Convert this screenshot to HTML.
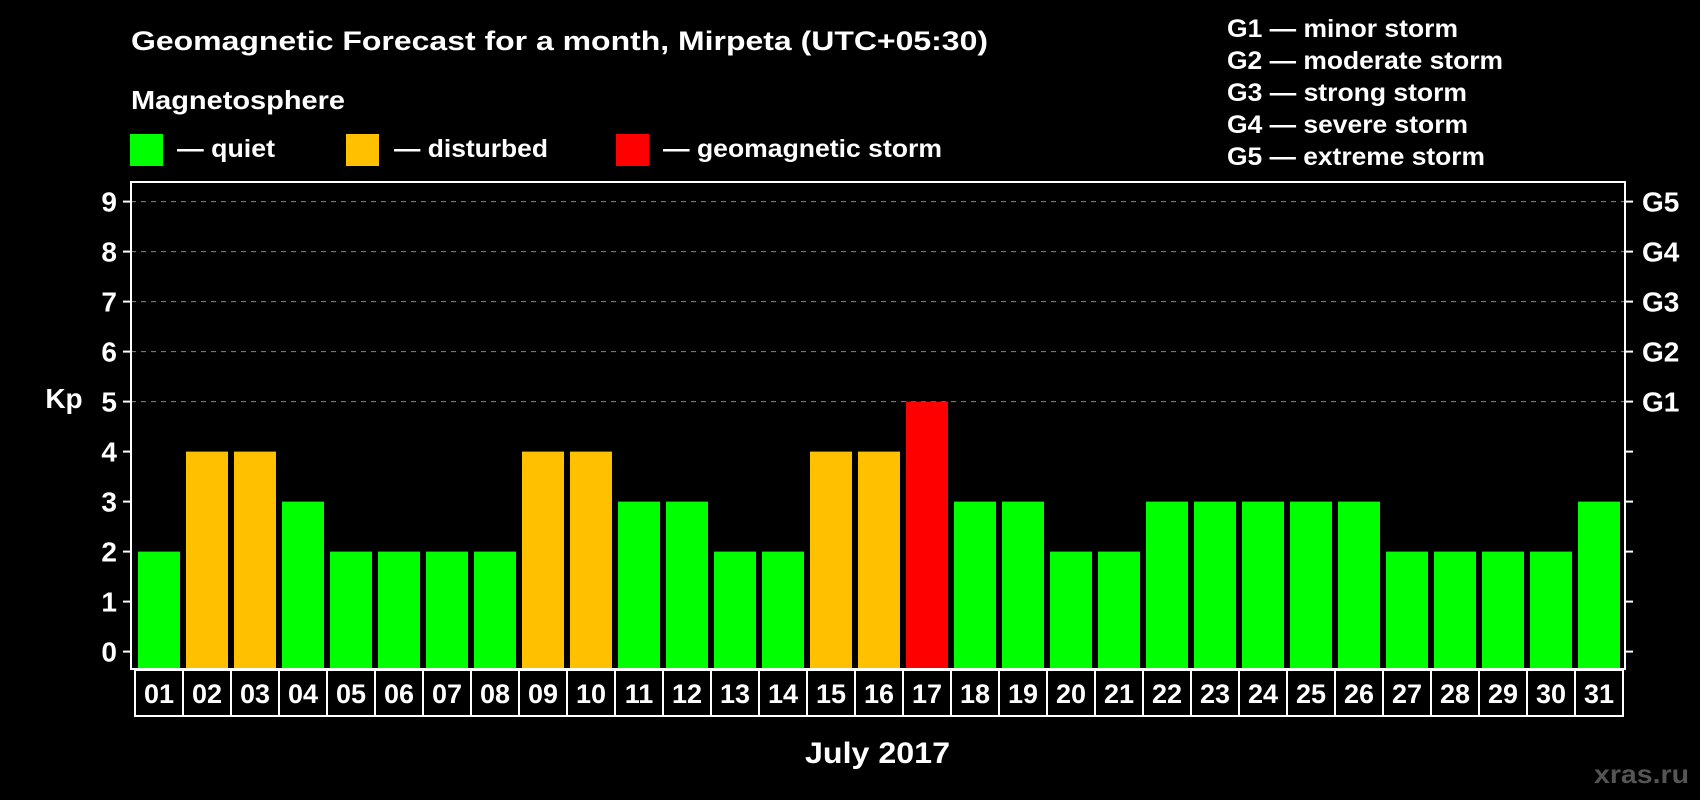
<!DOCTYPE html>
<html><head><meta charset="utf-8"><style>
body{margin:0;background:#000;}
svg{display:block;font-family:"Liberation Sans",Arial,sans-serif;font-weight:bold;}
</style></head><body>
<svg id="chart" width="1700" height="800" viewBox="0 0 1700 800">
<rect width="1700" height="800" fill="#000"/>
<text x="131" y="50" fill="#fff" font-size="27" textLength="857" lengthAdjust="spacingAndGlyphs">Geomagnetic Forecast for a month, Mirpeta (UTC+05:30)</text>
<text x="131" y="109" fill="#fff" font-size="26" textLength="214" lengthAdjust="spacingAndGlyphs">Magnetosphere</text>
<g><rect x="130" y="134" width="33" height="32" fill="#00ff00"/><text x="177" y="157" fill="#fff" font-size="25" textLength="98" lengthAdjust="spacingAndGlyphs">— quiet</text></g>
<g><rect x="346" y="134" width="33" height="32" fill="#ffc000"/><text x="394" y="157" fill="#fff" font-size="25" textLength="154" lengthAdjust="spacingAndGlyphs">— disturbed</text></g>
<g><rect x="616" y="134" width="33" height="32" fill="#ff0000"/><text x="663" y="157" fill="#fff" font-size="25" textLength="279" lengthAdjust="spacingAndGlyphs">— geomagnetic storm</text></g>
<g font-size="25" fill="#fff">
<text x="1227" y="37" textLength="231" lengthAdjust="spacingAndGlyphs">G1 — minor storm</text>
<text x="1227" y="69" textLength="276" lengthAdjust="spacingAndGlyphs">G2 — moderate storm</text>
<text x="1227" y="101" textLength="240" lengthAdjust="spacingAndGlyphs">G3 — strong storm</text>
<text x="1227" y="133" textLength="241" lengthAdjust="spacingAndGlyphs">G4 — severe storm</text>
<text x="1227" y="165" textLength="258" lengthAdjust="spacingAndGlyphs">G5 — extreme storm</text>
</g>
<text x="64" y="408" fill="#fff" font-size="28" text-anchor="middle">Kp</text>
<text x="805" y="763" fill="#fff" font-size="30" textLength="145" lengthAdjust="spacingAndGlyphs">July 2017</text>
<text x="1594" y="783" fill="#555" font-size="26" textLength="95" lengthAdjust="spacingAndGlyphs">xras.ru</text>
<g id="grid"></g><g id="bars"></g><g id="axes"></g>
</svg>
<script>
const days=["01","02","03","04","05","06","07","08","09","10","11","12","13","14","15","16","17","18","19","20","21","22","23","24","25","26","27","28","29","30","31"];
const kp=[2,4,4,3,2,2,2,2,4,4,3,3,2,2,4,4,5,3,3,2,2,3,3,3,3,3,2,2,2,2,3];
const yTicks=[0,1,2,3,4,5,6,7,8,9];
const gLabels=["G1","G2","G3","G4","G5"];
const NS="http://www.w3.org/2000/svg";
const L=131,R=1625,T=182,B=669;
const y=v=>651.6-v*50;
const x=i=>138+i*48;
function mk(tag,attrs,parent,txt){const e=document.createElementNS(NS,tag);for(const k in attrs)e.setAttribute(k,attrs[k]);if(txt!=null)e.textContent=txt;parent.appendChild(e);return e;}
const grid=document.getElementById('grid'),bars=document.getElementById('bars'),axes=document.getElementById('axes');
yTicks.forEach(v=>{
 if(v>=5){const g=mk('line',{x1:L,x2:R,y1:y(v),y2:y(v),stroke:'#888','stroke-dasharray':'5,5','stroke-width':1},grid);
 
 }
 const t=mk('line',{x1:L-8,x2:L,y1:y(v),y2:y(v),stroke:'#fff','stroke-width':2},axes);
 
 
 const t2=mk('line',{x1:R,x2:R+8,y1:y(v),y2:y(v),stroke:'#fff','stroke-width':2},axes);
 
 
 const lb=mk('text',{x:117,y:y(v)+10,fill:'#fff','font-size':28,'text-anchor':'end'},axes,v);
 
 
});
gLabels.forEach((g,i)=>{
 const lb=mk('text',{x:1642,y:y(5+i)+10,fill:'#fff','font-size':28},axes,g);
 
 
});
kp.forEach((v,i)=>{
 const c=v>=5?'#ff0000':v>=4?'#ffc000':'#00ff00';
 const r=mk('rect',{x:x(i),y:y(v),width:42,height:B-y(v),fill:c},bars);
 
 
 const bx=mk('rect',{x:x(i)-3,y:B+1,width:48,height:46,fill:'none',stroke:'#fff','stroke-width':2},axes);
 
 
 const t=mk('text',{x:x(i)+21,y:B+34,fill:'#fff','font-size':27,'text-anchor':'middle'},axes,days[i]);
 
 
});
const fr=mk('rect',{x:L,y:T,width:R-L,height:B-T,fill:'none',stroke:'#fff','stroke-width':2},axes);


</script>
</body></html>
